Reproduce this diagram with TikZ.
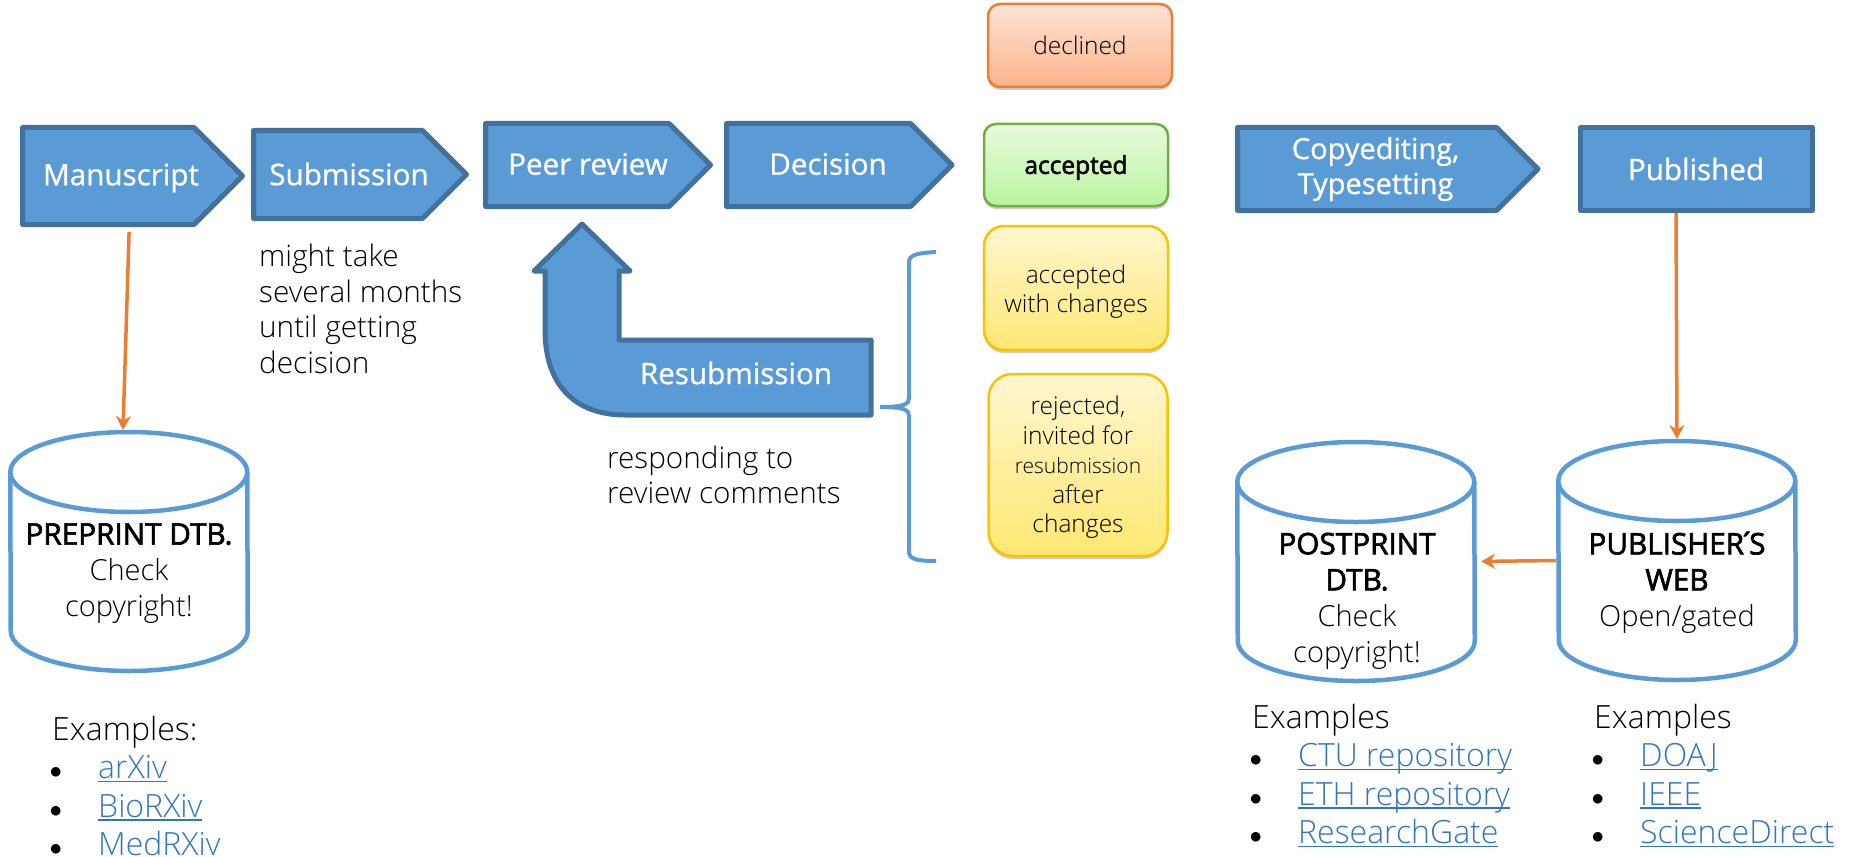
\documentclass[tikz,border=0pt]{standalone}
\usepackage{fontspec}
\usetikzlibrary{shapes.symbols,arrows.meta,shadows}
\setmainfont{Open Sans}
\newfontfamily\oslight{Open Sans Light}
\newfontfamily\osstrong[FakeBold=2.2]{Open Sans}
\newfontfamily\osstage[FakeBold=0.8]{Open Sans}
\definecolor{stagefill}{HTML}{5B9BD5}
\definecolor{stageline}{HTML}{41719C}
\definecolor{flow}{HTML}{ED7D31}
\definecolor{linkblue}{HTML}{2E75C6}
\definecolor{greenline}{HTML}{70AD47}
\definecolor{goldline}{HTML}{FFC000}
\definecolor{redtop}{HTML}{FEE3D6}
\definecolor{redlow}{HTML}{FBB48A}
\definecolor{greentop}{HTML}{E8FADC}
\definecolor{greenlow}{HTML}{BAF3A0}
\definecolor{goldtop}{HTML}{FFF6CF}
\definecolor{goldlow}{HTML}{FFE873}
\newsavebox{\linkbox}
\newcommand{\linkitem}[1]{\\\makebox[46pt][l]{\hspace*{-2.5pt}$\bullet$}\textcolor{linkblue}{\sbox{\linkbox}{#1}\rlap{\rule[-3.5pt]{\wd\linkbox}{1.2pt}}\usebox{\linkbox}}}
\newcommand{\dbtitle}[1]{{\osstrong\fontsize{29.7}{36}\selectfont #1}}
\newcommand{\dbdraw}[1]{
    \draw[dbline] ([xshift=2.25pt,yshift=-42pt]#1.north west) arc[start angle=180, end angle=0, x radius=118.5pt, y radius=40pt]
        -- ([xshift=-2.25pt,yshift=42pt]#1.south east) arc[start angle=0, end angle=-180, x radius=118.5pt, y radius=40pt] -- cycle;
    \draw[dbline] ([xshift=2.25pt,yshift=-42pt]#1.north west) arc[start angle=180, end angle=360, x radius=118.5pt, y radius=40pt];
}
\tikzset{
    stagebox/.style={signal, signal to=east, signal from=nowhere, signal pointer angle=90,
        draw=stageline, fill=stagefill, line width=5pt, line join=round, anchor=west},
    stagetext/.style={text=white, font=\osstage\fontsize{29.6}{35}\selectfont, align=center},
    dbbox/.style={rectangle, minimum width=242pt, minimum height=243pt, inner sep=0pt, outer sep=0pt},
    dbline/.style={draw=stagefill, line width=4.5pt},
    dbtext/.style={font=\oslight\fontsize{29}{36}\selectfont, align=center},
    resultbox/.style={rectangle, draw=#1, line width=2.5pt, minimum width=184pt,
        font=\oslight\fontsize{24.5}{29.5}\selectfont, align=center,
        drop shadow={shadow xshift=0pt, shadow yshift=-3pt, opacity=.2, fill=black}},
    flowarrow/.style={draw=flow, line width=3.5pt, -{Stealth[length=14pt,width=15pt]}},
    notetext/.style={anchor=west, align=left, inner sep=0pt, font=\oslight\fontsize{29.7}{35.5}\selectfont},
    listtext/.style={anchor=north west, align=left, inner sep=0pt, font=\oslight\fontsize{32}{38.5}\selectfont}
}
\begin{document}
\begin{tikzpicture}[x=1pt,y=-1pt]
    \useasboundingbox (0,0) rectangle (1851,856);

    % Stages along the top
    \node[stagebox, minimum width=220pt, minimum height=97pt] (manuscript) at (20,176) {};
    \node[stagetext] (manuscripttext) at (121,178) {Manuscript};
    \node[stagebox, minimum width=213pt, minimum height=88pt] (submission) at (251,174.5) {};
    \node[stagetext] (submissiontext) at (349,174) {Submission};
    \node[stagebox, minimum width=225pt, minimum height=83pt] (peer) at (483,165) {};
    \node[stagetext] (peertext) at (588,164) {Peer review};
    \node[stagebox, minimum width=225.5pt, minimum height=83pt] (decision) at (724,165) {};
    \node[stagetext] (decisiontext) at (828,164) {Decision};
    \node[stagebox, minimum width=300.5pt, minimum height=83pt] (copyediting) at (1235,169) {};
    \node[stagetext, font=\osstage\fontsize{29}{35}\selectfont] (copyeditingtext) at (1375.5,169) {Copyediting,\\Typesetting};
    \node[rectangle, draw=stageline, fill=stagefill, line width=5pt, line join=round, minimum width=232pt, minimum height=83pt] (published) at (1696.5,169) {};
    \node[stagetext] (publishedtext) at (1696,169) {Published};

    % Decision results
    \node[resultbox=flow, rounded corners=12pt, top color=redtop, bottom color=redlow, minimum height=83pt] (declined) at (1080,45.5) {declined};
    \node[resultbox=greenline, rounded corners=12pt, top color=greentop, bottom color=greenlow, minimum height=82pt, font=\osstrong\fontsize{24.5}{29.5}\selectfont] (accepted) at (1076,165) {\raisebox{-2.5pt}[\height][\depth]{accepted}};
    \node[resultbox=goldline, rounded corners=20pt, top color=goldtop, bottom color=goldlow, minimum height=124pt] (changes) at (1076,288) {\rule{0pt}{25.6pt}accepted\\with changes};
    \node[resultbox=goldline, rounded corners=24pt, top color=goldtop, bottom color=goldlow, minimum width=179pt, minimum height=182pt] (rejected) at (1078,465) {\rule{0pt}{23.6pt}rejected,\\invited for\\{\fontsize{21}{29.5}\selectfont resubmission}\\after\\changes};

    % Resubmission arrow and brace
    \draw[draw=stageline, fill=stagefill, line width=5pt, line join=round]
        (582,224) -- (630,271) -- (619,271) -- (619,340) -- (871,340) -- (871,415) -- (625,415)
        .. controls (575,415) and (545,385) .. (545,330) -- (545,271) -- (534,271) -- cycle;
    \node[stagetext] (resubmission) at (736,373) {Resubmission};
    \draw[stagefill, line width=4pt] (936,252) .. controls (920,253) and (909,254) .. (909,262) -- (909,398)
        .. controls (909,404) and (905,407) .. (880,407) .. controls (905,407) and (909,410) .. (909,416)
        -- (909,552) .. controls (909,560) and (920,561) .. (936,561);

    % Notes
    \node[notetext] (delay) at (259,309) {might take\\several months\\until getting\\decision};
    \node[notetext] (respond) at (607,475) {responding to\\review comments};

    % Databases
    \node[dbbox] (preprint) at (129,551.5) {};
    \dbdraw{preprint}
    \node[dbtext] (preprinttext) at (129,573.5) {\dbtitle{PREPRINT DTB.}\\Check\\copyright!};
    \node[dbbox] (postprint) at (1356,561.5) {};
    \dbdraw{postprint}
    \node[dbtext] (postprinttext) at (1357,601) {\dbtitle{POSTPRINT}\\\dbtitle{DTB.}\\Check\\copyright!};
    \node[dbbox] (publisher) at (1677,560.5) {};
    \dbdraw{publisher}
    \node[dbtext] (publishertext) at (1677,582.5) {\dbtitle{PUBLISHER\kern-6pt´\kern-6pt S}\\\dbtitle{WEB}\\Open/gated};

    % Arrows between them
    \draw[flowarrow, shorten <=5pt] ([xshift=21pt]manuscript.south) -- ([xshift=-6pt]preprint.north);
    \draw[flowarrow] ([xshift=-20.5pt]published.south) -- (publisher.north);
    \draw[flowarrow, shorten >=4pt] (publisher.west) -- (postprint.east);

    % Example lists
    \node[listtext] (listpre) at (52,715.5) {Examples:\linkitem{arXiv}\linkitem{BioRXiv}\linkitem{MedRXiv}};
    \node[listtext] (listpost) at (1252,703.5) {Examples\linkitem{CTU repository}\linkitem{ETH repository}\linkitem{ResearchGate}};
    \node[listtext] (listpub) at (1594,703.5) {Examples\linkitem{DOAJ}\linkitem{IEEE}\linkitem{ScienceDirect}};
\end{tikzpicture}
\end{document}
